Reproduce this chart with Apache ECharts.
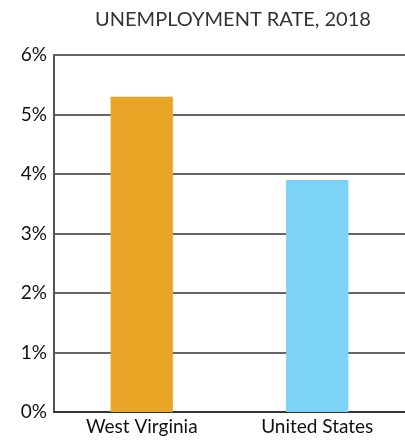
<!DOCTYPE html>
<html><head><meta charset="utf-8">
<script src="https://cdn.jsdelivr.net/npm/echarts@6/dist/echarts.min.js"></script>
<style>html,body{margin:0;padding:0;background:#fff}#c{width:405px;height:441px}</style>
</head><body><div id="c"></div>
<script>
const categories = ["West Virginia", "United States"];
const values = [5.3, 3.9];
const colors = ["#E9A626", "#7DD3F5"];
const yTicks = [0, 1, 2, 3, 4, 5, 6];
const title = "UNEMPLOYMENT RATE, 2018";

const chart = echarts.init(document.getElementById('c'), null, {renderer: 'canvas'});
chart.setOption({
  animation: false,
  title: {
    text: title, left: 228, top: 5, textAlign: 'center',
    textStyle: {fontFamily: 'Lato', fontSize: 20, fontWeight: 'normal', color: '#333'}
  },
  grid: {left: 54, right: -4, top: 55, bottom: 29, containLabel: false},
  xAxis: {
    type: 'category', data: categories,
    axisLine: {lineStyle: {color: '#333', width: 2}},
    axisTick: {show: false},
    axisLabel: {fontFamily: 'Lato', fontSize: 19, color: '#111', margin: 5}
  },
  yAxis: {
    type: 'value', min: yTicks[0], max: yTicks[yTicks.length - 1], interval: 1,
    axisLine: {show: true, lineStyle: {color: '#555', width: 2}},
    axisTick: {show: false},
    splitLine: {lineStyle: {color: '#333', width: 1.5}},
    axisLabel: {fontFamily: 'Lato', fontSize: 19, color: '#111', margin: 7, formatter: v => v + '%'}
  },
  series: [{
    type: 'bar', barWidth: '35.5%',
    data: values.map((v, i) => ({value: v, itemStyle: {color: colors[i]}}))
  }]
});
</script></body></html>
